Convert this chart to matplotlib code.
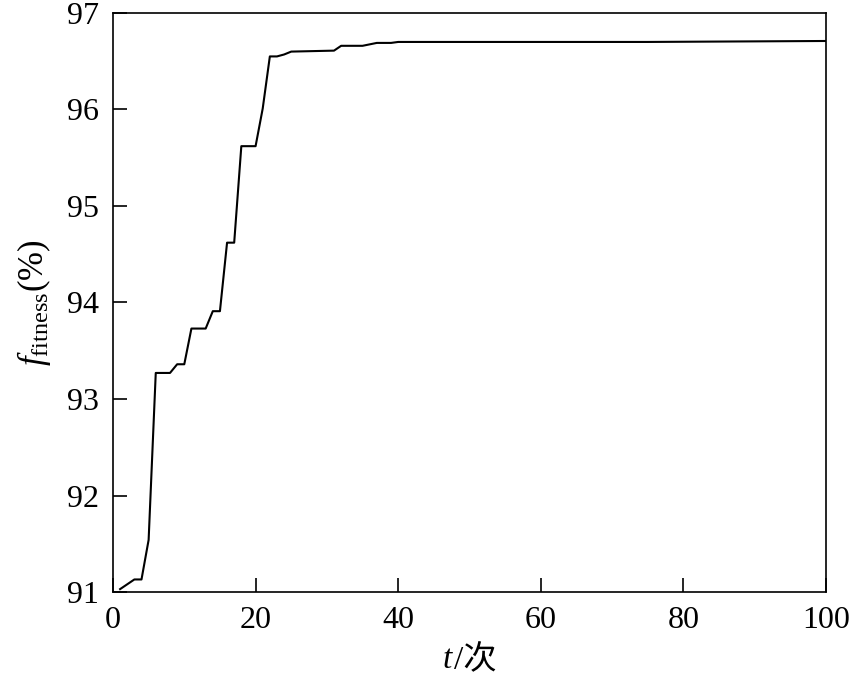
import matplotlib
matplotlib.use("Agg")
import matplotlib.pyplot as plt
from matplotlib.offsetbox import TextArea, HPacker, AnchoredOffsetbox

# Curve breakpoints (iteration, fitness %)
t_vals = [1, 3, 4, 5, 6, 8, 9, 10, 11, 13, 14, 15, 16, 17, 18, 20, 21, 22, 23,
          24, 25, 31, 32, 35, 37, 39, 40, 75, 100]
fitness = [91.03, 91.13, 91.13, 91.54, 93.27, 93.27, 93.36, 93.36, 93.73, 93.73,
           93.91, 93.91, 94.62, 94.62, 95.62, 95.62, 96.01, 96.55, 96.55, 96.57,
           96.60, 96.61, 96.66, 96.66, 96.69, 96.69, 96.70, 96.70, 96.71]

x_ticks = [0, 20, 40, 60, 80, 100]
y_ticks = [91, 92, 93, 94, 95, 96, 97]

FAMILY = ["Liberation Serif", "Noto Sans CJK SC"]
plt.rcParams["font.family"] = FAMILY
plt.rcParams["mathtext.fontset"] = "custom"
plt.rcParams["mathtext.rm"] = "Liberation Serif"
plt.rcParams["mathtext.it"] = "Liberation Serif:italic"

fig = plt.figure(figsize=(8.52, 6.84), dpi=100)
ax = fig.add_axes([0.1326, 0.1345, 0.8369, 0.8465])

ax.plot(t_vals, fitness, color="black", linewidth=1.5)

ax.set_xlim(0, 100)
ax.set_ylim(91, 97)
ax.set_xticks(x_ticks)
ax.set_yticks(y_ticks)
ax.tick_params(direction="in", length=10, width=1.2, labelsize=23,
               top=False, right=False, pad=10)
for sp in ax.spines.values():
    sp.set_linewidth(1.2)

ax.set_ylabel(r"$f_{\mathrm{fitness}}$(%)", fontsize=25, labelpad=10)

# x label: italic t followed by "/次" (CJK needs the family list, not mathtext)
lab_t = TextArea("t", textprops=dict(fontsize=24, style="italic", family=FAMILY))
lab_rest = TextArea("/次", textprops=dict(fontsize=24, family=FAMILY))
pack = HPacker(children=[lab_t, lab_rest], align="baseline", pad=0, sep=1)
box = AnchoredOffsetbox(loc="upper center", child=pack, frameon=False,
                        bbox_to_anchor=(0.5, -0.09), bbox_transform=ax.transAxes,
                        borderpad=0, pad=0)
ax.add_artist(box)

fig.savefig("out.png", dpi=100)
